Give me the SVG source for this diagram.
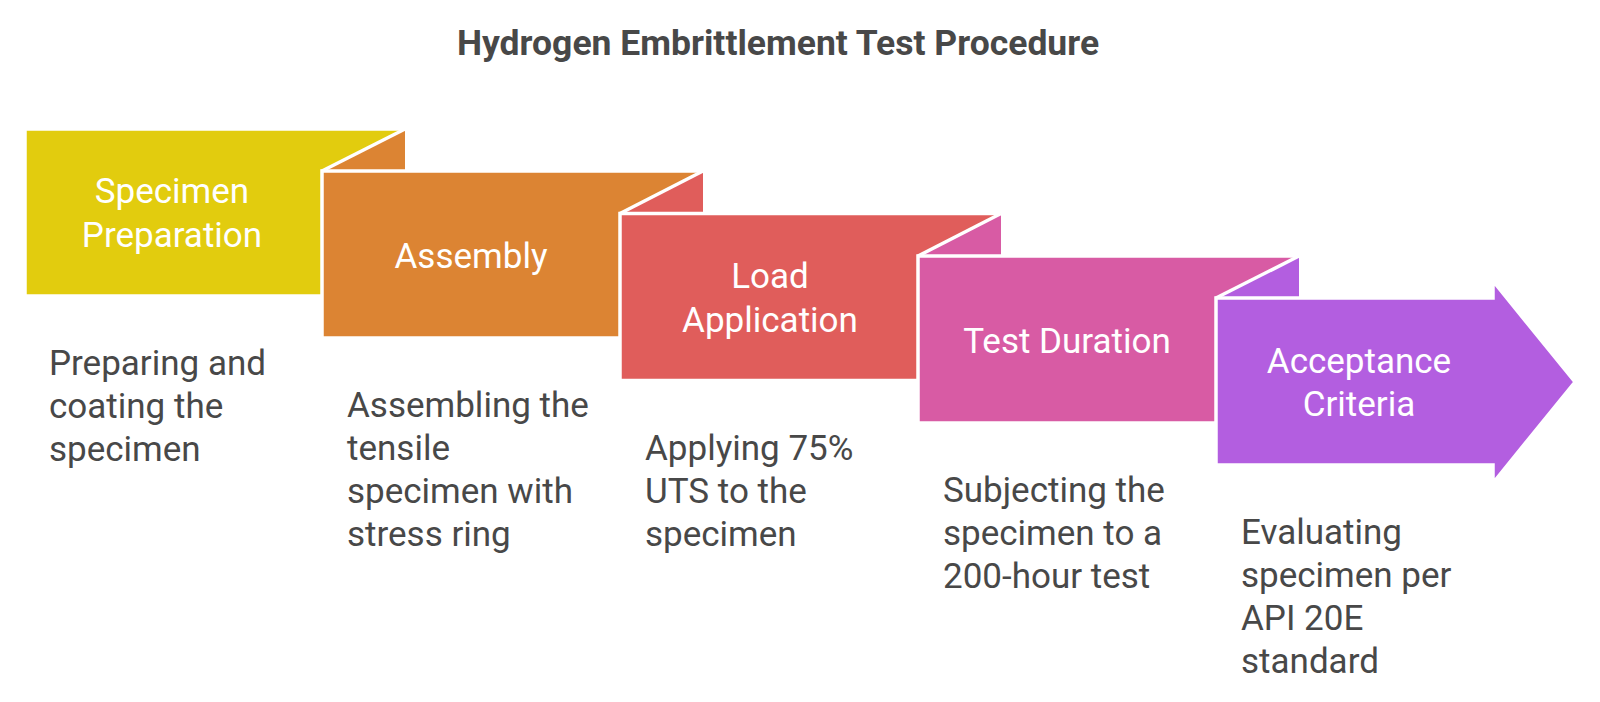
<svg xmlns="http://www.w3.org/2000/svg" width="1600" height="702" viewBox="0 0 1600 702">
<style>
.box{stroke:#fff;stroke-width:3.5}
.slant{stroke:#fff;stroke-width:3.5;fill:none}
.lbl{font-family:Roboto,"Liberation Sans",sans-serif;font-size:35px;fill:#fff;text-anchor:middle}
.desc{font-family:Roboto,"Liberation Sans",sans-serif;font-size:35px;fill:#484848}
.title{font-family:Roboto,"Liberation Sans",sans-serif;font-size:35.5px;font-weight:bold;fill:#484848;text-anchor:middle}
</style>
<rect width="1600" height="702" fill="#fff"/>
<text class="title" x="778" y="55">Hydrogen Embrittlement Test Procedure</text>
<g id="step1">
<rect class="box" x="25" y="129" width="380" height="167" fill="#E2CC0E" stroke="none"/>
<text class="lbl" x="172" y="203">Specimen</text>
<text class="lbl" x="172" y="247">Preparation</text>
</g>
<g id="step2">
<polygon points="322,171 405,129 405,171" fill="#DC8433"/>
<line class="slant" x1="322" y1="171" x2="405" y2="129"/>
<rect class="box" x="322" y="171" width="381" height="167" fill="#DC8433"/>
<text class="lbl" x="471" y="268">Assembly</text>
</g>
<g id="step3">
<polygon points="620,213.5 703,171 703,213.5" fill="#E05D5B"/>
<line class="slant" x1="620" y1="213.5" x2="703" y2="171"/>
<rect class="box" x="620" y="213.5" width="381" height="167" fill="#E05D5B"/>
<text class="lbl" x="770" y="288">Load</text>
<text class="lbl" x="770" y="332">Application</text>
</g>
<g id="step4">
<polygon points="918,256 1001,213.5 1001,256" fill="#D85BA4"/>
<line class="slant" x1="918" y1="256" x2="1001" y2="213.5"/>
<rect class="box" x="918" y="256" width="381" height="167" fill="#D85BA4"/>
<text class="lbl" x="1067" y="353">Test Duration</text>
</g>
<g id="step5">
<polygon points="1216,298 1299,256 1299,298" fill="#B35EE0"/>
<line class="slant" x1="1216" y1="298" x2="1299" y2="256"/>
<path class="box" d="M1216,298 H1493 V281 L1575,382 L1493,483 V465 H1216 Z" fill="#B35EE0"/>
<text class="lbl" x="1359" y="373">Acceptance</text>
<text class="lbl" x="1359" y="416">Criteria</text>
</g>
<g id="descriptions">
<text class="desc" x="49" y="374.5">Preparing and</text>
<text class="desc" x="49" y="417.5">coating the</text>
<text class="desc" x="49" y="460.5">specimen</text>
<text class="desc" x="347" y="417">Assembling the</text>
<text class="desc" x="347" y="460">tensile</text>
<text class="desc" x="347" y="503">specimen with</text>
<text class="desc" x="347" y="546">stress ring</text>
<text class="desc" x="645" y="459.5">Applying 75%</text>
<text class="desc" x="645" y="502.5">UTS to the</text>
<text class="desc" x="645" y="545.5">specimen</text>
<text class="desc" x="943" y="502">Subjecting the</text>
<text class="desc" x="943" y="545">specimen to a</text>
<text class="desc" x="943" y="588">200-hour test</text>
<text class="desc" x="1241" y="544">Evaluating</text>
<text class="desc" x="1241" y="587">specimen per</text>
<text class="desc" x="1241" y="630">API 20E</text>
<text class="desc" x="1241" y="673">standard</text>
</g>
<g id="connectors"></g>
</svg>
